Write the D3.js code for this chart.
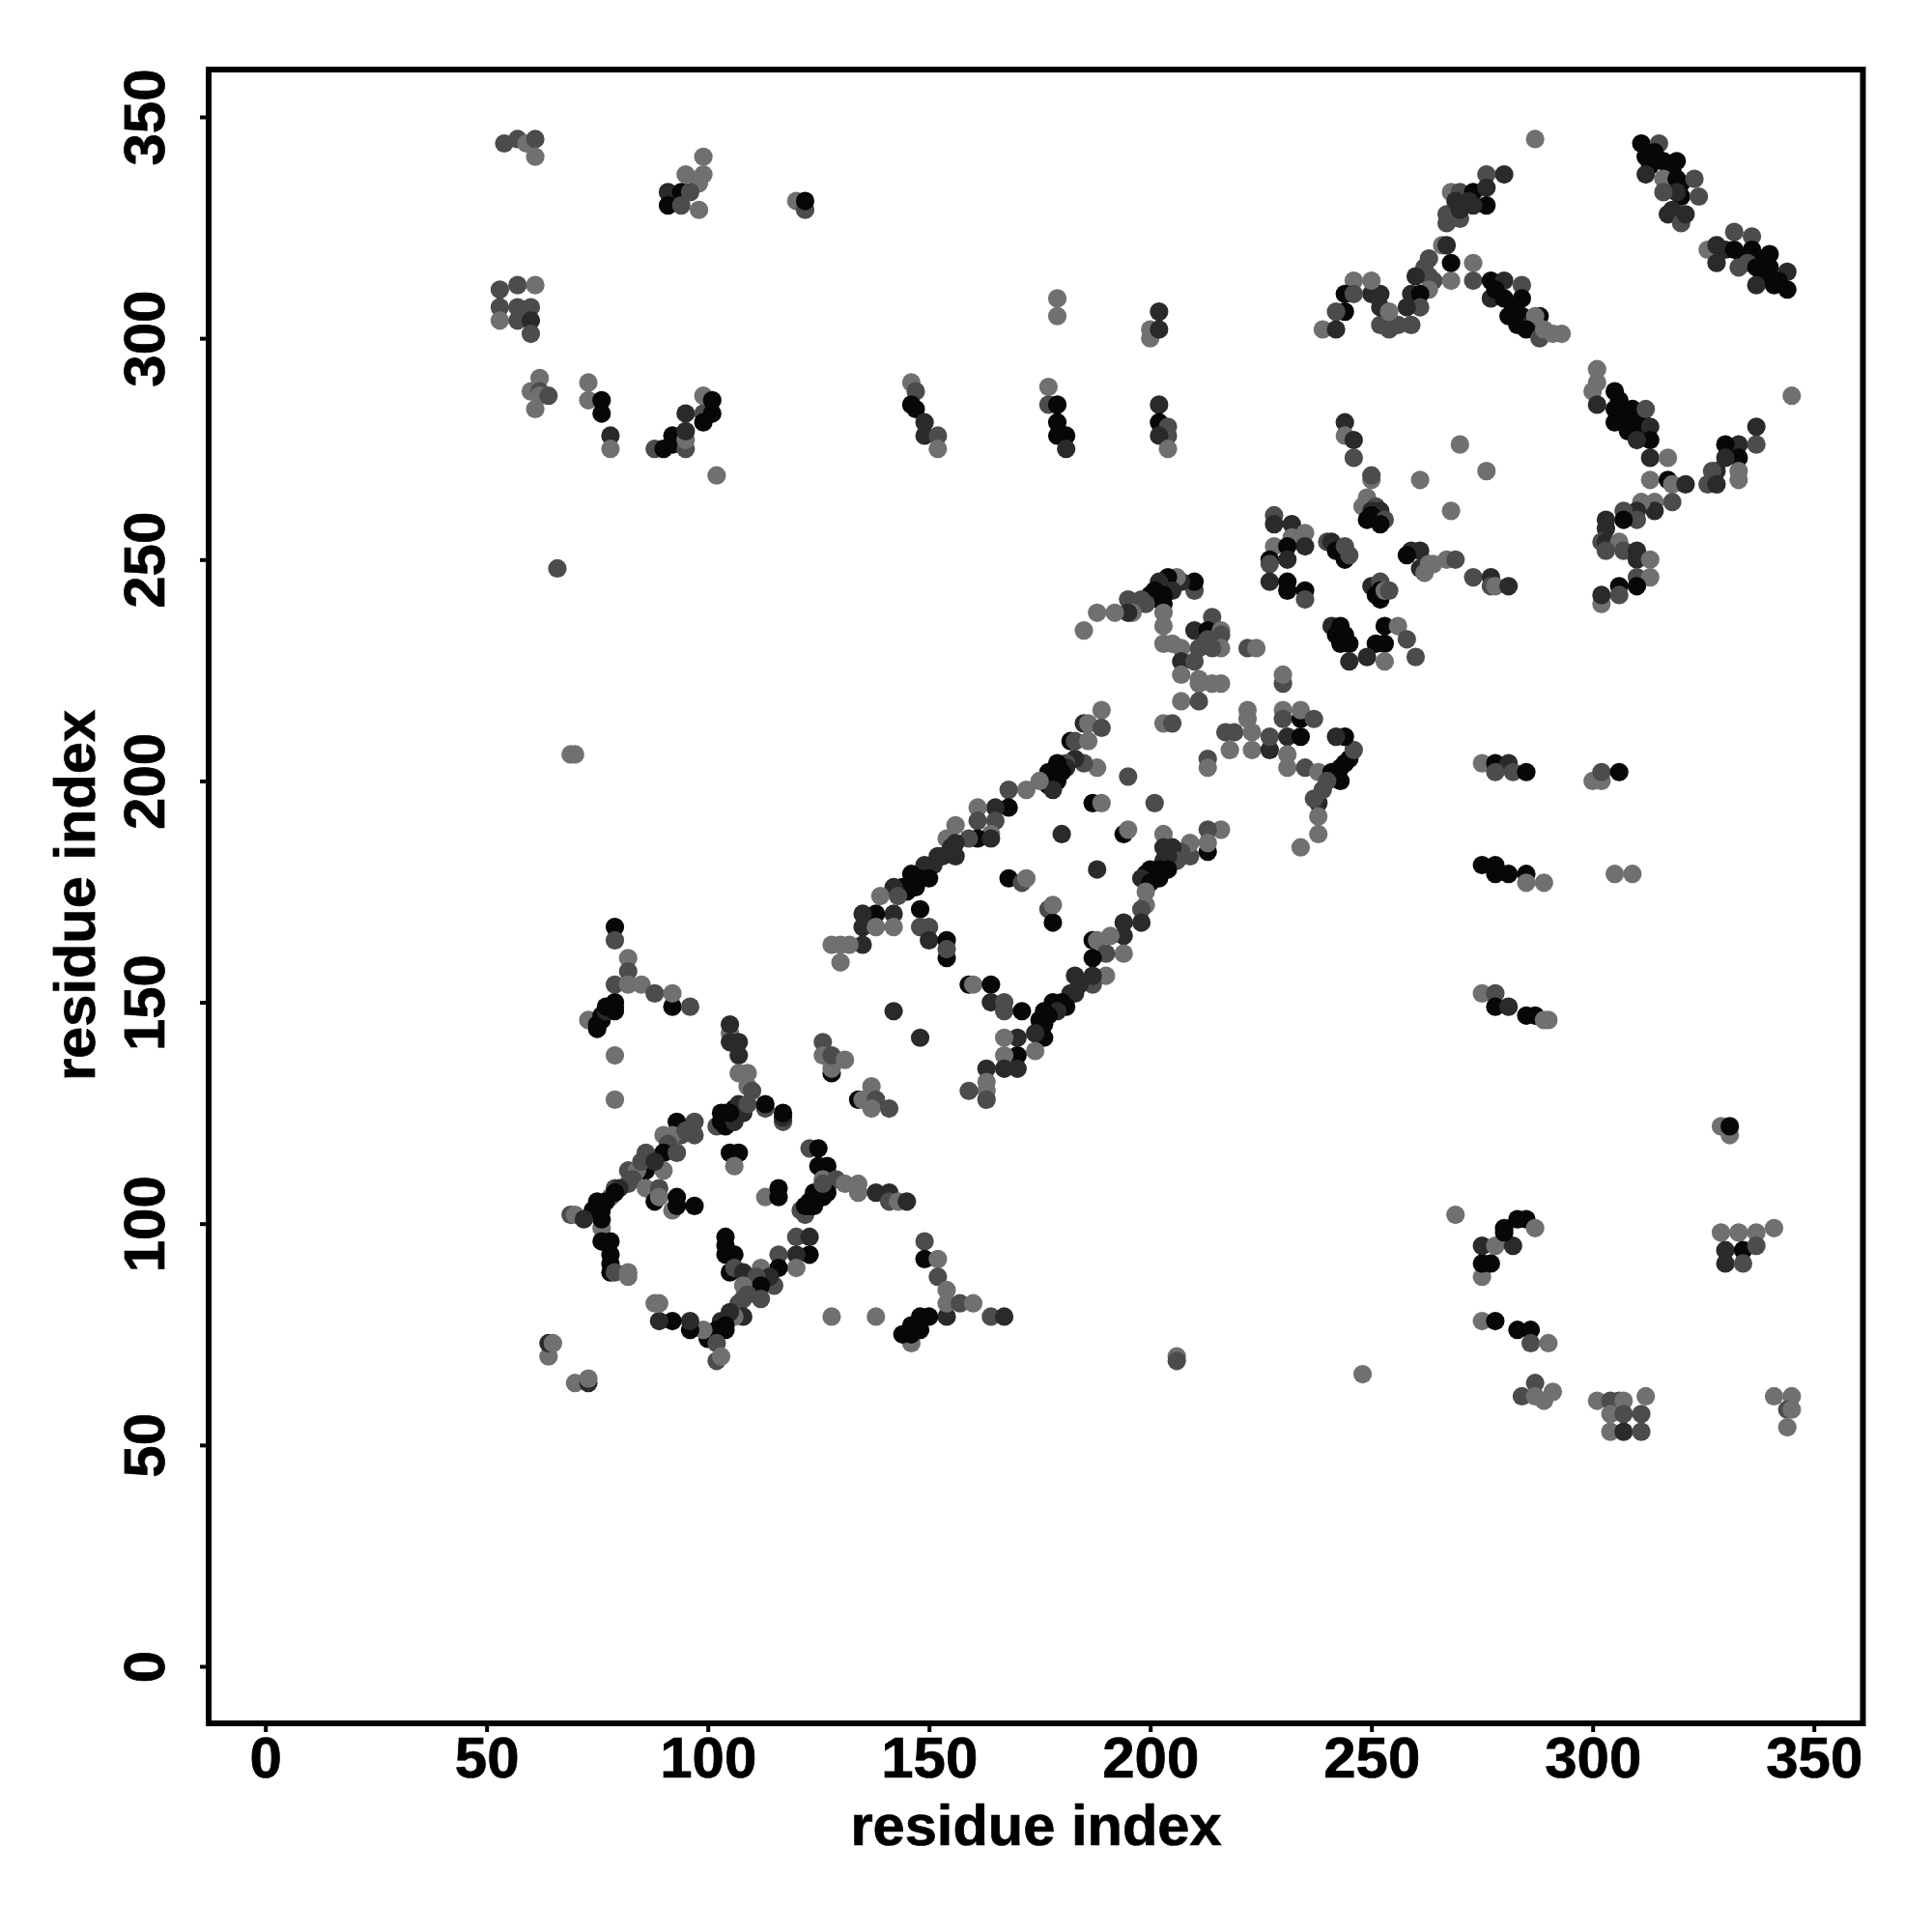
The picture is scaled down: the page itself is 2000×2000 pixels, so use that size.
<!DOCTYPE html>
<html><head><meta charset="utf-8">
<script src="https://cdn.jsdelivr.net/npm/d3@7"></script>
<style>html,body{margin:0;background:#fff}svg{display:block}text{font-family:"Liberation Sans",Arial,sans-serif;font-weight:700;fill:#000;stroke:#000;stroke-width:0.7px}</style>
</head><body><svg id="c" width="2000" height="2000"></svg>
<script>
// each contact: [residue i, residue j, shade index]
const shades = ["#707070","#4c4c4c","#2a2a2a","#070707"];
const tickValues = [0,50,100,150,200,250,300,350];
const axisLabel = "residue index";

const lowerLeftArm = [[79,167,3],[79,164,1],[82,160,0],[82,157,1],[79,154,1],[82,154,0],[85,154,0],[88,152,1],[92,149,3],[96,149,1],[92,152,0],
[73,146,0],[75,144,3],[75,145,3],[76,146,3],[76,147,3],[77,148,2],[77,149,3],[79,148,3],[79,149,3],[79,150,3],[79,138,0],[79,128,0]];
const domainA = [[105,143,0],[105,145,2],[105,141,2],[107,141,2],[107,138,2],[107,134,0],[109,134,0],[109,131,0],[110,130,1],
[102,122,1],[103,123,3],[104,122,3],[104,125,3],[105,124,3],[106,123,2],[106,126,3],[107,127,2],[107,125,2],[108,125,2],[109,127,1],[103,125,3],[105,125,3],
[113,126,1],[113,127,3],[117,123,1],[117,124,2],[117,125,3],[93,123,3],[97,123,1],[97,120,1],[94,120,1],[92,120,0],[90,120,0],[95,121,1],[91,118,1],
[90,116,3],[86,116,1],[93,116,1],[86,112,3],[82,112,1],[84,112,0],[90,112,0],[85,114,1],[88,114,2],[83,110,1],[82,109,1],[86,108,0],[79,108,1],[80,108,2],[89,108,1],[88,105,3],[89,106,0],[92,103,0],[93,106,3],[93,104,3],[97,104,3],
[78,106,0],[79,107,3],[75,105,3],[76,104,3],[74,103,3],[77,105,3],[76,103,3],[76,99,0],[76,101,3],[69,102,1],[70,102,0],[72,101,2],[76,96,3],[78,96,3],[78,93,3],[78,91,3],[78,89,3],[79,89,1],[82,89,0],[82,88,0],
[104,97,3],[104,95,3],[104,93,3],[106,93,3],[105,89,3],[106,90,1],[108,89,2],[120,97,1],[123,97,2],[123,93,3],[120,93,2],[120,90,0],[116,93,1],[116,90,3],[112,90,0],[115,86,1],[114,88,2],[111,88,1],[112,86,3],[108,86,0],[112,83,1],[108,83,1],[109,84,1],[107,82,1],[108,79,2],[106,79,0],[105,80,2],[103,78,2],[104,77,3],[104,76,3],[102,76,3],[100,74,3],[101,75,3],[99,76,0],[96,76,3],[96,78,2],[92,78,3],[89,78,2],[88,82,0],[89,82,0],[102,73,1],[102,69,1],[103,70,0],
[105,116,3],[107,116,3],[106,113,0],[113,106,0],[116,108,3],[116,106,3]];
const armB = [[123,117,1],[125,117,3],[125,113,3],[127,113,3],[126,110,0],[129,110,1],[131,109,0],[134,109,0],[134,107,0],[138,107,2],[141,107,2],[141,105,1],[143,105,0],[145,105,2],
[121,103,1],[122,102,1],[123,104,3],[122,104,3],[124,104,3],[124,107,3],[125,106,3],[126,106,3],[127,107,3],[123,105,3],[126,109,1],
[149,96,1],[149,92,3],[152,92,0],[152,88,1],[154,85,0],[154,79,2],[154,82,0],[157,82,1],[160,82,0],[164,79,1],[167,79,2],[128,79,0],[138,79,0],
[146,73,0],[144,75,3],[146,75,3],[146,77,3],[148,76,3],[148,79,3],[150,79,3],
[64,70,0],[64,73,2],[65,73,0],[70,64,0],[73,64,2],[73,65,0]];
const midNodes = [[126,141,1],[126,138,0],[128,134,3],[128,135,0],[128,138,1],[131,137,0],[137,131,0],[134,128,3],[135,128,0],[138,128,1],[137,126,0],[141,126,1],[142,148,2],[148,142,2]];
const upperHelix = [[189,216,0],[185,213,2],[186,213,0],[189,212,1],[182,209,3],[183,209,1],[186,209,0],[188,203,0],[185,204,1],[183,205,2],[181,204,1],[181,203,2],[180,202,3],[179,204,3],[178,201,3],[177,202,3],[179,200,3],[176,200,3],[177,199,3],[178,198,2],[175,200,0],[172,198,0],[168,198,1],[168,194,3],[165,194,2],[161,194,0],[161,191,1],[165,191,1],[164,188,0],[161,187,3],[159,187,1],[164,187,2],[156,190,0],[154,187,0],[156,186,2],[156,183,2],[155,185,2],[153,183,2],[152,183,2],[151,181,2],[149,181,2],[149,179,2],[150,178,3],[148,178,3],[146,179,3],[146,177,3],[147,176,3],[145,175,3],[144,176,3],[142,176,2],[139,174,0],[143,174,1],[142,170,2],[138,170,3],[135,170,2],[135,167,2],[138,167,0],[142,167,0],[148,171,3],[148,167,1],[150,167,1],[150,164,2],[154,164,3],[154,160,3],[154,162,1],[135,163,2],[132,163,0],[128,163,0],[130,163,0],[130,159,0]];
const innerDots = [[195,201,1],[201,195,1],[187,195,3],[189,195,0],[180,188,2],[194,188,3],[195,189,0],[188,180,2],[168,178,3],[171,177,1],[172,178,0],[177,171,1],[178,168,3],[178,172,0]];
const lowerHelix = [[216,189,0],[213,189,1],[213,184,3],[213,186,0],[209,183,1],[209,186,0],[207,184,1],[203,188,0],[203,185,2],[205,185,2],[206,182,1],[204,183,2],[203,182,2],[204,180,3],[202,180,3],[200,180,3],[202,178,3],[201,178,3],[199,179,3],[198,178,2],[200,177,3],[199,175,0],[199,172,0],[198,171,1],[198,168,2],[194,168,2],[194,165,2],[191,165,0],[187,164,3],[188,164,0],[194,161,0],[190,161,1],[187,160,3],[190,156,0],[187,154,1],[187,156,2],[183,156,2],[184,154,2],[183,152,2],[182,152,2],[181,149,3],[180,150,3],[178,150,3],[178,149,3],[179,148,2],[177,147,3],[176,148,3],[176,145,3],[175,146,3],[175,144,3],[176,142,3],[174,143,2],[174,139,0],[170,142,2],[167,142,0],[170,138,3],[167,138,0],[167,135,2],[170,135,2],
[163,135,2],[163,132,0],[163,130,0],[163,128,1],[159,130,1],[159,154,3],[160,154,0],[164,154,3],[164,150,2],[167,150,1],[167,148,1],[171,148,3]];
const hingeA = [[210,243,1],[210,245,3],[207,245,2],[206,246,0],[204,246,3],[203,244,3],[202,245,2],[205,243,2],[202,241,3],[203,242,3],[201,243,3],[203,240,3],[200,242,3],[199,240,1],[198,241,1],[195,241,1],[196,238,0],[195,238,2],[192,238,0],[188,238,0],[185,234,0],[203,238,0],[203,235,0],[203,231,0],[205,231,0],[207,230,0],[210,234,2],[214,237,1],[213,234,3],[213,232,1],[216,234,0],[216,233,1],[211,230,1],[216,230,0],[214,230,1],[207,227,2],[210,227,1],[207,224,0],[211,223,0],[211,222,0],[214,222,0],[216,222,0],[207,218,0],[211,218,1],[203,213,0],[205,213,1],[222,230,1],[224,230,0],[230,222,1],[230,224,0]];
const hingeB = [[222,216,0],[222,214,0],[217,211,1],[219,211,1],[223,211,0],[218,207,0],[223,207,0],[227,207,2],[227,210,1],[230,216,0],[230,214,1],[234,214,3],[234,216,0],[237,214,1],[231,210,2],[234,210,3],[231,206,0],[231,203,0],[235,203,1],[238,202,0],[213,205,1],[213,203,0],
[238,195,2],[237,196,1],[238,192,0],[238,188,0],[234,185,0],[241,202,3],[243,203,3],[244,204,3],[245,205,3],[246,207,1],[243,200,3],[240,200,1],[244,210,3],[242,210,2],[239,198,1]];
const blockC = [[228,260,1],[228,258,2],[232,258,2],[232,255,0],[235,256,0],[235,253,2],[228,253,0],[231,253,3],[231,250,2],[227,250,3],[227,249,1],[227,245,2],[231,245,3],[231,243,3],[235,243,3],[235,241,1],
[244,281,2],[244,278,0],[246,277,2],[246,273,1],[250,268,0],[250,269,1],[270,276,0],[276,270,0],[261,268,0],[268,261,0],
[249,264,0],[248,262,0],[251,262,1],[250,261,2],[252,261,2],[250,260,3],[253,259,1],[249,259,3],[252,258,3],
[240,254,1],[241,254,2],[242,252,3],[244,250,3],[245,251,1],[244,253,1],
[259,252,2],[261,252,2],[258,251,3],[261,248,2],[263,249,0],[264,249,0],[262,247,0],[267,250,0],[269,250,1],[273,246,1],[277,246,2],[277,244,1],[278,244,0],[281,244,2],
[250,244,2],[252,245,1],[252,243,3],[251,242,3],[252,241,3],[253,243,0],[254,243,1],
[241,235,2],[243,235,3],[242,233,3],[244,233,3],[243,231,3],[245,231,3],[253,235,3],[256,235,0],[251,231,3],[253,231,3],[258,232,1],[245,227,2],[249,228,2],[253,227,0],[260,228,1]];
const topRightA = [[287,345,0],[280,337,2],[276,337,1],[268,333,0],[270,333,1],[273,333,3],[276,334,2],[276,330,3],[273,330,2],[267,326,1],[267,328,1],[270,327,1],[270,329,2],[269,331,2],[272,331,2],
[266,321,0],[267,321,2],[263,318,1],[262,316,1],[263,314,1],[264,313,1],[260,314,2],[268,313,0],[268,317,3],[273,317,0],[273,313,1],[263,311,0],[259,310,2],[261,310,3],[261,307,1],[258,307,2],[259,303,1],[256,303,1],[254,302,1],[252,303,1],[252,307,2],[254,306,0],[252,310,2],[250,310,2],[250,313,0],[246,313,0],[244,310,3],[246,310,1],[244,306,3],[242,306,1],[239,302,0],[242,302,2],
[277,313,3],[280,313,2],[284,312,1],[277,309,2],[280,309,3],[278,311,3],[284,309,3],[281,305,3],[282,307,3],[284,305,3],[283,303,3],[286,303,2],[288,305,3],[287,305,0],[285,302,3],[288,300,1],[289,302,0],[291,301,0],[293,301,0]];
const topRightB = [[311,344,3],[315,344,1],[314,342,3],[312,341,3],[313,339,3],[316,340,3],[319,340,3],[318,338,3],[317,337,3],[312,337,2],[316,336,0],[319,336,3],[320,335,3],[323,336,1],[320,332,3],[319,333,2],[316,333,1],[324,332,1],[318,329,2],[317,328,2],[320,326,1],[321,328,2],
[332,324,1],[336,323,1],[326,320,0],[328,321,2],[330,320,2],[332,320,3],[336,320,3],[340,319,3],[334,318,3],[338,318,3],[328,317,2],[333,316,1],[335,317,1],[337,316,3],[340,316,3],[339,314,3],[344,315,2],[342,313,3],[337,312,2],[341,312,3],[344,311,3]];
const rightBlock = [[301,293,0],[301,290,0],[300,288,0],[301,285,2],[305,288,3],[306,286,3],[305,284,3],[307,283,3],[305,281,3],[309,284,3],[309,281,3],[311,282,3],[312,284,1],[311,280,3],[308,279,3],[313,280,2],[313,277,3],[310,277,2],[313,273,2],[317,273,0],[337,280,2],[345,287,0],
[333,276,2],[330,276,3],[337,276,1],[333,273,3],[330,273,2],[333,268,0],[333,270,0],[328,270,2],[327,270,1],[326,267,1],[328,267,2],
[313,268,0],[317,268,3],[318,267,0],[321,267,2],[318,263,1],[314,263,0],[314,261,2],[311,263,0],[310,261,2],[310,259,1],[307,261,1],[307,259,3],[303,259,2],[303,257,2],[302,254,1],[303,254,2],[306,254,0],[307,252,1],[303,252,1],[310,252,2],[310,250,2],[313,250,0],[310,246,1],[313,246,0],[310,244,3],[306,244,3],[306,242,1],[302,240,0],[302,242,2]];
const upperLeft = [[54,344,1],[57,345,1],[59,344,0],[61,345,1],[61,341,0],[99,341,0],[95,337,0],[99,337,0],[98,335,0],[91,333,2],[91,330,3],[94,333,3],[94,330,1],[96,333,1],[98,329,0],[120,331,0],[122,329,1],[122,331,3],
[53,311,1],[57,312,1],[61,312,0],[53,307,1],[57,307,1],[60,307,1],[53,304,0],[57,304,1],[60,304,2],[60,301,1],[62,291,0],[60,288,0],[62,288,1],[62,287,0],[64,287,1],[61,284,0],
[73,290,0],[73,286,0],[76,286,3],[76,283,3],[78,278,2],[78,275,0],[88,275,1],[90,275,3],[92,276,3],[95,275,1],[92,278,3],[95,277,0],[95,279,2],[95,283,2],[99,283,1],[99,281,3],[101,283,3],[99,287,0],[101,286,3],[102,269,0],
[146,290,0],[147,288,1],[146,285,3],[147,284,3],[149,281,2],[149,278,2],[152,278,1],[152,275,0],[177,289,0],[177,285,1],[179,285,3],[179,281,3],[179,278,3],[181,278,3],[181,275,2],
[202,285,2],[202,281,3],[204,280,1],[204,278,1],[202,278,2],[204,275,0],[66,248,1],[69,206,0],[70,206,0],[200,300,0],[200,302,0],[202,302,2],[202,306,2],[179,309,0],[179,305,0]];
const lowerRight = [[275,204,0],[278,204,3],[281,204,2],[278,202,1],[282,202,1],[285,202,3],[275,181,3],[278,181,3],[278,179,3],[281,179,3],[285,179,3],[285,177,0],[289,177,0],
[275,152,0],[278,152,1],[278,149,3],[281,149,2],[285,147,3],[287,147,3],[289,146,0],[290,146,0],
[300,200,0],[302,200,0],[302,202,1],[306,202,3],[305,179,0],[309,179,0],[329,122,0],[331,120,0],[331,122,3],[269,102,0],
[275,88,0],[275,91,3],[277,91,3],[275,95,2],[278,95,0],[282,95,2],[280,98,3],[280,99,3],[283,101,3],[285,101,3],[287,99,0],
[275,78,0],[278,78,3],[283,76,3],[286,76,3],[286,73,1],[290,73,0],[284,61,1],[287,64,1],[287,61,0],[289,60,0],[291,62,0],
[301,60,0],[304,60,1],[306,60,1],[307,60,0],[312,61,0],[304,57,0],[307,57,1],[311,57,1],[304,53,0],[307,53,2],[311,53,1],
[341,61,0],[345,61,0],[344,58,1],[345,58,0],[344,54,0],[329,98,0],[333,98,0],[337,98,0],[341,99,0],[330,94,2],[334,94,3],[337,95,1],[330,91,2],[334,91,1],
[248,66,0],[206,70,0],[206,69,1]];

const contacts = [].concat(lowerLeftArm,domainA,armB,midNodes,upperHelix,innerDots,lowerHelix,hingeA,hingeB,blockC,topRightA,topRightB,rightBlock,upperLeft,lowerRight);

const svg = d3.select("#c");
const x = d3.scaleLinear().domain([0,350]).range([274.7,1877.7]);
const y = d3.scaleLinear().domain([0,350]).range([1725,121]);
const L=216,R=1928.5,T=72,B=1784;

svg.append("g").selectAll("circle").data(contacts).join("circle")
  .attr("cx",d=>x(d[0])).attr("cy",d=>y(d[1])).attr("r",9.6).attr("fill",d=>shades[d[2]]);

svg.append("rect").attr("x",L).attr("y",T).attr("width",R-L).attr("height",B-T)
  .attr("fill","none").attr("stroke","#000").attr("stroke-width",6);

const gx = svg.append("g").attr("transform",`translate(0,${B+2})`)
  .call(d3.axisBottom(x).tickValues(tickValues).tickSize(7).tickPadding(5));
const gy = svg.append("g").attr("transform",`translate(${L-2},0)`)
  .call(d3.axisLeft(y).tickValues(tickValues).tickSize(7));
[gx,gy].forEach(g=>{g.select(".domain").remove();g.selectAll("line").attr("stroke","#000").attr("stroke-width",4);});
gx.selectAll("text").attr("font-size",60).attr("dy",null).attr("y",54).attr("text-anchor","middle");
gy.selectAll("text").attr("font-size",60).attr("dy",null).attr("x",null).attr("y",null)
  .attr("text-anchor","middle")
  .attr("transform",`translate(-44,0) rotate(-90)`);
svg.append("text").attr("x",1072.5).attr("y",1910).attr("text-anchor","middle").attr("font-size",59.6).text(axisLabel);
svg.append("text").attr("text-anchor","middle").attr("font-size",59.6)
  .attr("transform","translate(98,927) rotate(-90)").text(axisLabel);
</script></body></html>
